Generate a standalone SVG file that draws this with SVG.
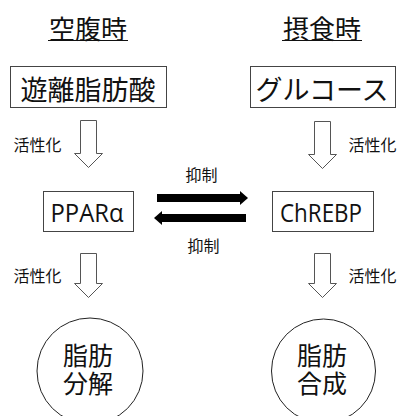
<svg xmlns="http://www.w3.org/2000/svg" width="400" height="416" viewBox="0 0 400 416">
<style>
text{font-family:"Noto Sans CJK JP","Noto Sans",sans-serif;fill:#111;text-anchor:middle}
.jp{dominant-baseline:central}
.title{font-size:26px}
.box{fill:#fff;stroke:#444;stroke-width:1}
.lbl{font-size:27px}
.small{font-size:16px}
.latin{font-family:"Open Sans","Liberation Sans",sans-serif;font-size:26px}
.barrow{fill:#fff;stroke:#555;stroke-width:1}
.circ{fill:#fff;stroke:#222;stroke-width:1}
.cl{font-size:25px}
.inh{stroke:#000;stroke-width:8}
</style>
<defs>
<marker id="ah" viewBox="0 0 8 14" refX="0" refY="7" markerWidth="8" markerHeight="14" markerUnits="userSpaceOnUse" orient="auto">
<path d="M0,0 L8,7 L0,14 z" fill="#000"/>
</marker>
</defs>
<rect width="400" height="416" fill="#fff"/>
<g id="title-fasting">
<text class="jp title" x="88" y="27.5">空腹時</text>
<line x1="48" y1="40.5" x2="128" y2="40.5" stroke="#111" stroke-width="1.2"/>
</g>
<g id="title-fed">
<text class="jp title" x="322" y="27.5">摂食時</text>
<line x1="282" y1="40.5" x2="362" y2="40.5" stroke="#111" stroke-width="1.2"/>
</g>
<g id="ffa">
<rect class="box" x="10.5" y="66.5" width="156" height="41"/>
<text class="jp lbl" x="88" y="88">遊離脂肪酸</text>
</g>
<g id="glucose">
<rect class="box" x="250.5" y="66.5" width="145" height="41"/>
<text class="jp lbl" x="322" y="88">グルコース</text>
</g>
<g id="ppara">
<rect class="box" x="43.5" y="191.5" width="90" height="40"/>
<text class="latin" x="87" y="222" textLength="73" lengthAdjust="spacingAndGlyphs">PPARα</text>
</g>
<g id="chrebp">
<rect class="box" x="272.5" y="191.5" width="101" height="40"/>
<text class="latin" x="321" y="222" textLength="82" lengthAdjust="spacingAndGlyphs">ChREBP</text>
</g>
<g id="lipolysis">
<circle class="circ" cx="90" cy="371" r="53"/>
<text class="jp cl" x="88" y="353.5">脂肪</text>
<text class="jp cl" x="88" y="381.5">分解</text>
</g>
<g id="lipogenesis">
<circle class="circ" cx="323.5" cy="371" r="52"/>
<text class="jp cl" x="322" y="353.5">脂肪</text>
<text class="jp cl" x="322" y="381.5">合成</text>
</g>
<g id="connectors">
<polygon class="barrow" points="80.5,120.5 96.5,120.5 96.5,153.5 102.5,153.5 88.5,167.5 74.5,153.5 80.5,153.5"/>
<polygon class="barrow" points="314.5,121.5 330.5,121.5 330.5,154.5 336.5,154.5 322.5,168.5 308.5,154.5 314.5,154.5"/>
<polygon class="barrow" points="80.5,253.5 96.5,253.5 96.5,283.5 102.5,283.5 88.5,297.5 74.5,283.5 80.5,283.5"/>
<polygon class="barrow" points="314.5,253.5 330.5,253.5 330.5,283.5 336.5,283.5 322.5,297.5 308.5,283.5 314.5,283.5"/>
<line class="inh" x1="157" y1="198" x2="240" y2="198" marker-end="url(#ah)"/>
<line class="inh" x1="246" y1="218" x2="162" y2="218" marker-end="url(#ah)"/>
<text class="jp small" x="37.5" y="143.5">活性化</text>
<text class="jp small" x="372.5" y="143.5">活性化</text>
<text class="jp small" x="37.5" y="275">活性化</text>
<text class="jp small" x="372.5" y="275">活性化</text>
<text class="jp small" x="201.5" y="173.5">抑制</text>
<text class="jp small" x="203.5" y="244.5">抑制</text>
</g>
</svg>
